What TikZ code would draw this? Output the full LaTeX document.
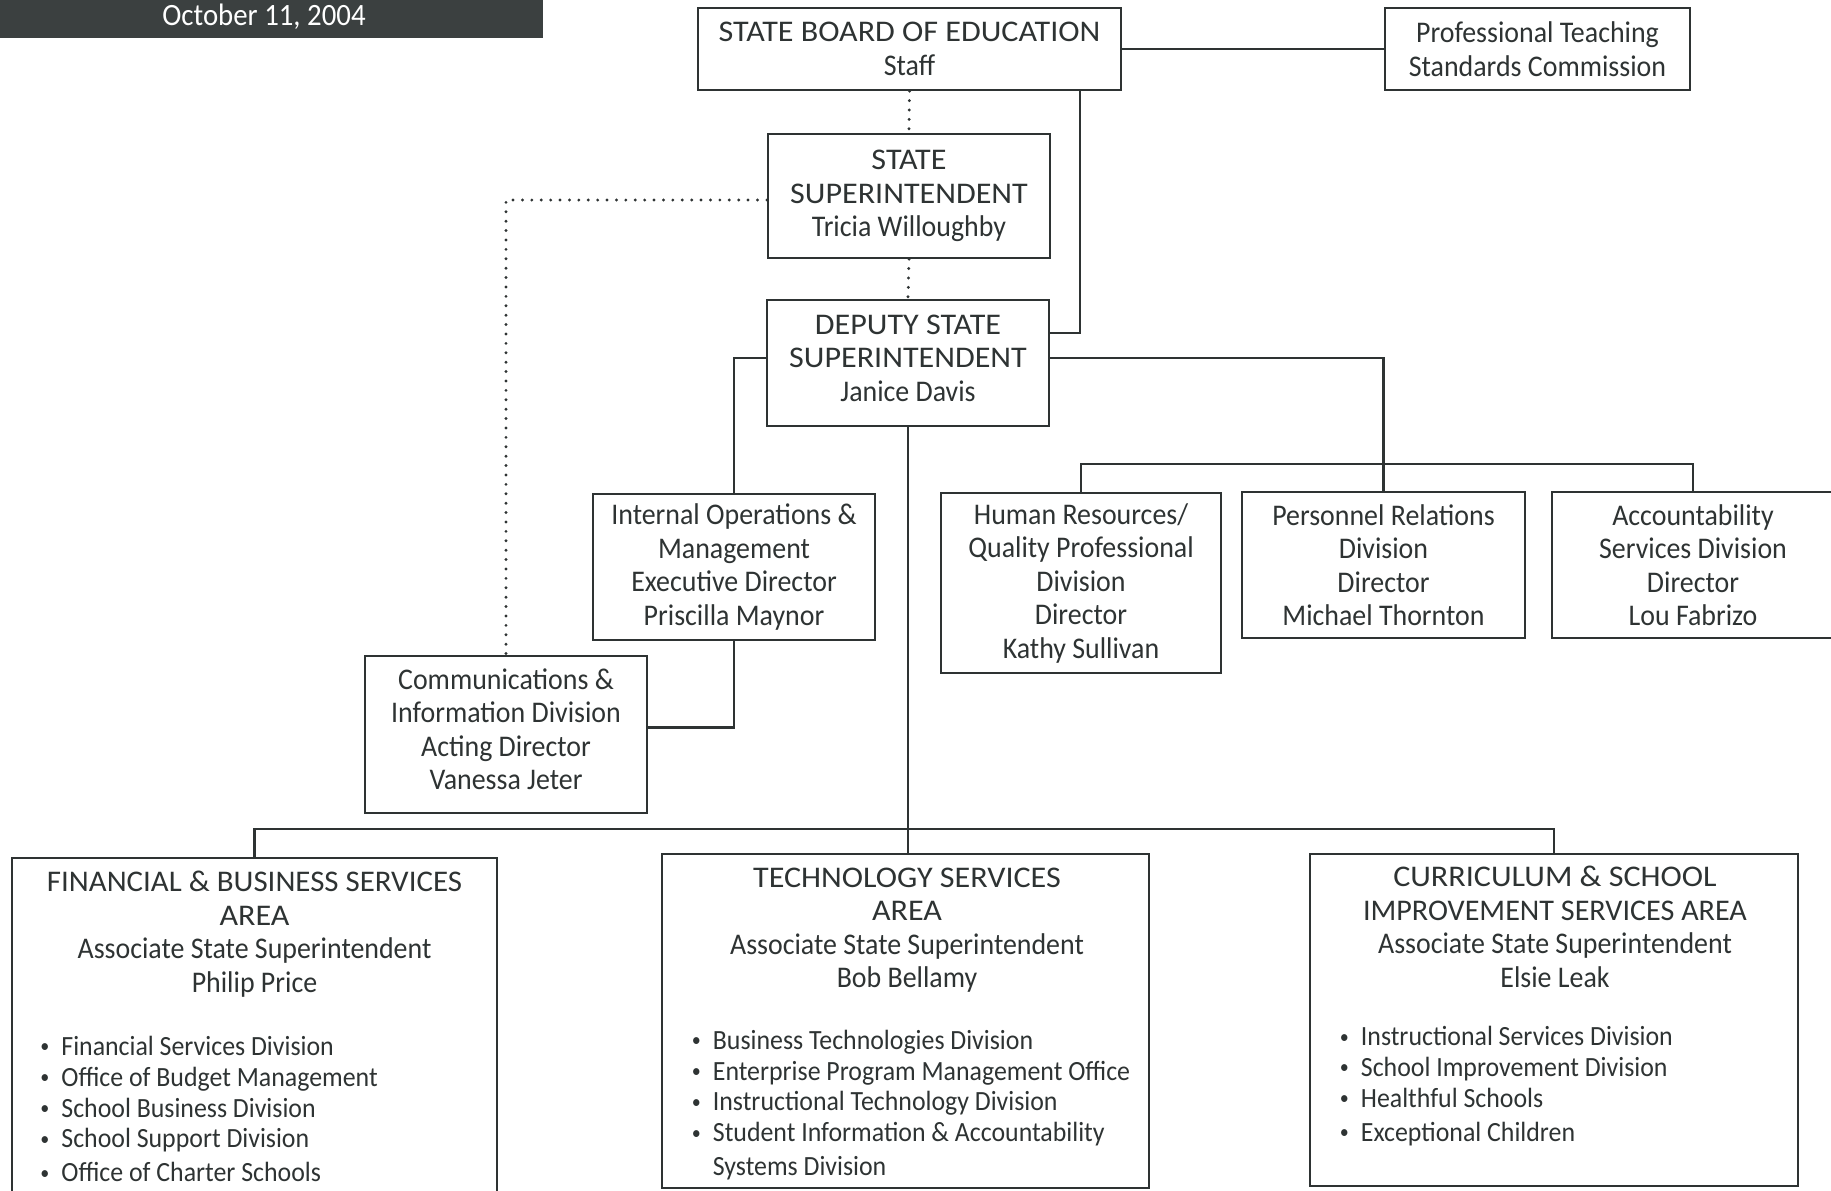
\documentclass[tikz,border=0pt]{standalone}
\usepackage{fontspec}
\setmainfont[FakeStretch=0.93]{Carlito}
\newfontfamily\cf[FakeStretch=1.07]{Carlito}
\newfontfamily\cfa[FakeStretch=1.03]{Carlito}
\newfontfamily\cfb[FakeStretch=1.005]{Carlito}
\definecolor{ink}{HTML}{2E3333}
\definecolor{bar}{HTML}{3B4040}
\newcommand\bul{\makebox[10.5pt][l]{\raisebox{0.2ex}{\scalebox{0.7}{\textbullet}}}}
\newcommand\dpt[1]{\rule[-#1]{0pt}{0pt}}
\begin{document}
\begin{tikzpicture}[x=0.5pt,y=-0.5pt,
  every node/.style={text=ink},
  box/.style={draw=ink,line width=1.15pt,rectangle,inner sep=0pt,align=center,
    font=\fontsize{15}{16.75}\selectfont},
  hdr/.style={align=center,inner sep=0pt,font=\fontsize{15}{16.75}\selectfont},
  lst/.style={align=left,inner sep=0pt,anchor=west,font=\fontsize{13.9}{15.4}\selectfont},
  conn/.style={draw=ink,line width=1.15pt},
  dot/.style={draw=ink,line width=1.6pt,line cap=round,dash pattern=on 0pt off 4.7pt}]
\useasboundingbox (0,0) rectangle (1831,1190);
\clip (0,0) rectangle (1831,1190);
% date bar
\fill[bar] (0,-2) rectangle (543,38);
\node[text=white,font=\fontsize{15.5}{16}\selectfont,inner sep=0pt] (date) at (264,16.5) {October 11, 2004};
% boxes
\node[box,minimum width=211.5pt,minimum height=41pt] (sbe) at (909.5,49) {{\cf STATE BOARD OF EDUCATION}\\Staff};
\node[box,minimum width=152.5pt,minimum height=41pt] (ptsc) at (1537.5,49) {Professional Teaching\\Standards Commission};
\node[box,minimum width=141pt,minimum height=62pt] (ss) at (909,196) {{\cf STATE}\\{\cf SUPERINTENDENT}\\Tricia Willoughby};
\node[box,minimum width=141pt,minimum height=63pt] (dep) at (908,363) {{\cf DEPUTY STATE}\\{\cf SUPERINTENDENT}\\Janice Davis\dpt{5pt}};
\node[box,minimum width=141pt,minimum height=73pt] (iom) at (734,567) {Internal Operations \&\\Management\\Executive Director\\Priscilla Maynor};
\node[box,minimum width=141pt,minimum height=78.5pt] (comm) at (506,734.5) {Communications \&\\Information Division\\Acting Director\\Vanessa Jeter\dpt{5.5pt}};
\node[box,minimum width=140pt,minimum height=90pt] (hr) at (1081,583) {Human Resources/\\Quality Professional\\Division\\Director\\Kathy Sullivan};
\node[box,minimum width=141.5pt,minimum height=73pt] (pr) at (1383.5,565) {Personnel Relations\\Division\\Director\\Michael Thornton};
\node[box,minimum width=141pt,minimum height=73pt] (acc) at (1693,565) {Accountability\\Services Division\\Director\\Lou Fabrizo};
% area boxes
\node[box,minimum width=242.5pt,minimum height=176pt] (fbs) at (254.5,1034) {};
\node[box,minimum width=243.5pt,minimum height=167pt] (ts) at (905.5,1021) {};
\node[box,minimum width=244pt,minimum height=166pt] (csi) at (1554,1020) {};
\node[hdr] (fbsh) at (254.5,934) {{\cfa FINANCIAL \& BUSINESS SERVICES}\\{\cf AREA}\\Associate State Superintendent\\Philip Price};
\node[hdr] (tsh) at (907,930) {{\cf TECHNOLOGY SERVICES}\\{\cf AREA}\\Associate State Superintendent\\Bob Bellamy};
\node[hdr] (csih) at (1555,927) {{\cf CURRICULUM \& SCHOOL}\\{\cfb IMPROVEMENT SERVICES AREA}\\Associate State Superintendent\\Elsie Leak};
\node[lst] (fbsl) at (40,1109) {\bul Financial Services Division\\\bul Office of Budget Management\\\bul School Business Division\\\bul School Support Division\\[1.5pt]\bul Office of Charter Schools};
\node[lst] (tsl) at (691.5,1105) {\bul Business Technologies Division\\\bul Enterprise Program Management Office\\\bul Instructional Technology Division\\\bul Student Information \& Accountability\\[1.5pt]\hspace*{10.5pt}Systems Division};
\node[lst] (csil) at (1339.5,1086) {\bul Instructional Services Division\\\bul School Improvement Division\\\bul Healthful Schools\\[1.5pt]\bul Exceptional Children};
% connectors
\coordinate (j1) at (1080,333);
\coordinate (d1) at (506,200);
\coordinate (j2) at (0,358);
\coordinate (b2) at (0,464);
\coordinate (j3) at (0,727.5);
\coordinate (b3) at (0,829);
\draw[conn] (sbe.east) -- (ptsc.west);
\draw[conn] (j1 |- sbe.south) -- (j1) -- (j1 -| dep.east);
\draw[dot] (sbe.south) -- (ss.north);
\draw[dot] (ss.south) -- (dep.north);
\draw[dot] (ss.west |- d1) -| (comm.north);
\draw[conn] (dep.west |- j2) -| (iom.north);
\draw[conn] (dep.east |- j2) -| (pr.north);
\draw[conn] (hr.north) |- (b2 -| acc.north) -- (acc.north);
\draw[conn] (iom.south) |- (comm.east |- j3);
\draw[conn] (dep.south) -- (dep.south |- ts.north);
\draw[conn] (fbs.north) |- (b3 -| csi.north) -- (csi.north);
\end{tikzpicture}
\end{document}
